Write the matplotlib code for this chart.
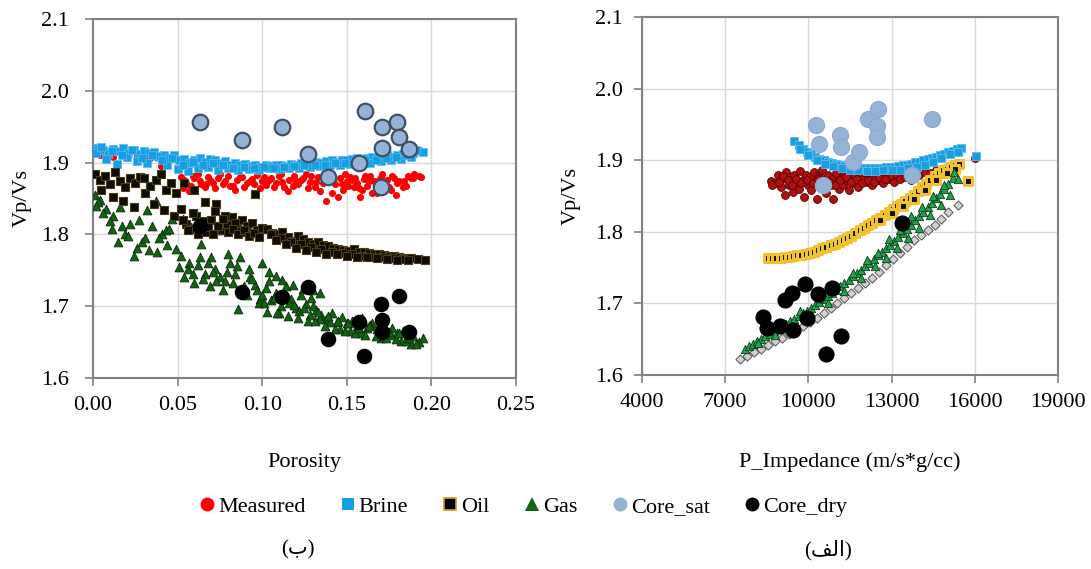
import matplotlib
matplotlib.use("Agg")
import matplotlib.pyplot as plt
from matplotlib.lines import Line2D

plt.rcParams['font.family'] = ['Liberation Serif', 'DejaVu Sans']

## Left panel : Vp/Vs vs porosity

brine_phi = [0.000, 0.003, 0.006, 0.009, 0.012, 0.015, 0.018, 0.021, 0.024, 0.027, 0.030, 0.033, 0.036, 0.039,
             0.042, 0.045, 0.048, 0.051, 0.054, 0.057, 0.060, 0.063, 0.066, 0.069, 0.072, 0.075, 0.078, 0.081,
             0.084, 0.087, 0.090, 0.093, 0.096, 0.099, 0.102, 0.105, 0.108, 0.111, 0.114, 0.117, 0.120, 0.123,
             0.126, 0.129, 0.132, 0.135, 0.138, 0.141, 0.144, 0.147, 0.150, 0.153, 0.156, 0.159, 0.162, 0.165,
             0.168, 0.171, 0.174, 0.177, 0.180, 0.183, 0.186, 0.189, 0.192, 0.195,
             0.002, 0.008, 0.014, 0.020, 0.026, 0.032, 0.038, 0.044, 0.050, 0.056, 0.062, 0.068, 0.074, 0.080,
             0.086, 0.092, 0.098, 0.104, 0.110, 0.116, 0.122, 0.128, 0.134, 0.140, 0.146, 0.152, 0.158, 0.164,
             0.170, 0.176, 0.182, 0.188,
             0.005, 0.011, 0.017, 0.023, 0.029, 0.035, 0.041, 0.047, 0.053, 0.059, 0.065, 0.071, 0.077, 0.083,
             0.089, 0.095, 0.101, 0.107, 0.113, 0.119, 0.125, 0.131, 0.137, 0.143, 0.149, 0.155, 0.161, 0.167,
             0.173, 0.179, 0.185, 0.191]
brine_vpvs = [1.920, 1.918, 1.917, 1.912, 1.919, 1.916, 1.921, 1.914, 1.918, 1.912, 1.916, 1.913, 1.915, 1.908,
              1.911, 1.906, 1.910, 1.903, 1.905, 1.899, 1.904, 1.906, 1.901, 1.905, 1.903, 1.899, 1.902, 1.897,
              1.900, 1.896, 1.898, 1.895, 1.896, 1.894, 1.897, 1.895, 1.896, 1.897, 1.895, 1.898, 1.897, 1.899,
              1.898, 1.900, 1.901, 1.899, 1.902, 1.903, 1.901, 1.904, 1.903, 1.905, 1.906, 1.904, 1.907, 1.908,
              1.906, 1.909, 1.910, 1.908, 1.911, 1.912, 1.914, 1.913, 1.916, 1.915,
              1.913, 1.905, 1.898, 1.908, 1.902, 1.900, 1.909, 1.897, 1.891, 1.888, 1.892, 1.894, 1.890, 1.893,
              1.889, 1.891, 1.890, 1.892, 1.891, 1.893, 1.892, 1.894, 1.895, 1.896, 1.897, 1.898, 1.899, 1.900,
              1.902, 1.903, 1.905, 1.908,
              1.922, 1.916, 1.910, 1.918, 1.907, 1.911, 1.903, 1.906, 1.897, 1.901, 1.897, 1.899, 1.896, 1.893,
              1.894, 1.892, 1.894, 1.893, 1.894, 1.895, 1.896, 1.896, 1.897, 1.899, 1.900, 1.901, 1.903, 1.904,
              1.906, 1.908, 1.911, 1.918]

meas_phi = [0.004, 0.012, 0.020, 0.026, 0.033, 0.040, 0.046, 0.052, 0.055, 0.058, 0.060, 0.063, 0.066, 0.068,
            0.071, 0.074, 0.077, 0.080, 0.083, 0.085, 0.088, 0.091, 0.094, 0.097, 0.100, 0.102, 0.105, 0.108,
            0.111, 0.113, 0.116, 0.119, 0.121, 0.124, 0.127, 0.129, 0.132, 0.134, 0.137, 0.139, 0.141, 0.143,
            0.146, 0.148, 0.150, 0.152, 0.154, 0.156, 0.158, 0.160, 0.162, 0.164, 0.166, 0.168, 0.170, 0.172,
            0.174, 0.176, 0.178, 0.180, 0.183, 0.186, 0.190, 0.194,
            0.053, 0.057, 0.062, 0.067, 0.072, 0.078, 0.084, 0.089, 0.095, 0.101, 0.107, 0.112, 0.118, 0.123,
            0.128, 0.133, 0.138, 0.142, 0.147, 0.151, 0.155, 0.159, 0.163, 0.167, 0.171, 0.175, 0.179, 0.184,
            0.188,
            0.054, 0.059, 0.064, 0.069, 0.075, 0.081, 0.087, 0.093, 0.099, 0.104, 0.110, 0.115, 0.120, 0.126,
            0.131, 0.136, 0.140, 0.145, 0.149, 0.153, 0.157, 0.161, 0.165, 0.169, 0.173, 0.177, 0.181, 0.185,
            0.189, 0.193]
meas_vpvs = [1.910, 1.908, 1.906, 1.910, 1.905, 1.895, 1.905, 1.880, 1.872, 1.868, 1.878, 1.875, 1.866, 1.880,
             1.872, 1.878, 1.870, 1.882, 1.868, 1.876, 1.880, 1.871, 1.877, 1.883, 1.874, 1.869, 1.879, 1.872,
             1.884, 1.866, 1.876, 1.881, 1.870, 1.878, 1.865, 1.882, 1.873, 1.861, 1.879, 1.884, 1.857, 1.870,
             1.878, 1.862, 1.874, 1.880, 1.866, 1.871, 1.852, 1.877, 1.868, 1.882, 1.874, 1.858, 1.880, 1.869,
             1.876, 1.862, 1.879, 1.871, 1.866, 1.882, 1.884, 1.880,
             1.865, 1.860, 1.884, 1.870, 1.864, 1.874, 1.862, 1.866, 1.870, 1.880, 1.866, 1.873, 1.868, 1.876,
             1.873, 1.880, 1.846, 1.877, 1.870, 1.867, 1.879, 1.862, 1.875, 1.870, 1.884, 1.866, 1.855, 1.874,
             1.878,
             1.876, 1.882, 1.870, 1.876, 1.884, 1.868, 1.880, 1.874, 1.864, 1.876, 1.882, 1.860, 1.874, 1.884,
             1.866, 1.872, 1.878, 1.852, 1.884, 1.876, 1.864, 1.882, 1.858, 1.876, 1.868, 1.882, 1.874, 1.868,
             1.878, 1.882]

oil_phi = [0.001, 0.004, 0.007, 0.010, 0.013, 0.016, 0.019, 0.022, 0.025, 0.028, 0.031, 0.034, 0.037, 0.040,
           0.043, 0.046, 0.049, 0.005, 0.012, 0.018, 0.024, 0.030, 0.036, 0.042, 0.048,
           0.052, 0.055, 0.058, 0.061, 0.064, 0.067, 0.070, 0.073, 0.076, 0.079, 0.082, 0.085, 0.088, 0.091,
           0.094, 0.097, 0.100, 0.054, 0.060, 0.066, 0.072, 0.078, 0.084, 0.090, 0.096,
           0.103, 0.106, 0.109, 0.112, 0.115, 0.118, 0.121, 0.124, 0.127, 0.130, 0.133, 0.136, 0.139, 0.142,
           0.145, 0.148, 0.151, 0.154, 0.157, 0.160, 0.163, 0.166, 0.169, 0.172, 0.175, 0.178, 0.181, 0.184,
           0.188, 0.192, 0.196,
           0.105, 0.111, 0.117, 0.123, 0.129, 0.135, 0.141, 0.147, 0.153, 0.159, 0.165, 0.171, 0.177, 0.183,
           0.053, 0.056, 0.059, 0.062, 0.065, 0.068, 0.071, 0.074, 0.077, 0.080, 0.083, 0.086, 0.089, 0.092,
           0.095, 0.098,
           0.108, 0.114, 0.120, 0.126, 0.132, 0.138, 0.144, 0.150, 0.156, 0.162, 0.168, 0.174, 0.180, 0.186]
oil_vpvs = [1.884, 1.876, 1.882, 1.870, 1.887, 1.874, 1.866, 1.878, 1.872, 1.880, 1.858, 1.868, 1.876, 1.884,
            1.862, 1.872, 1.858, 1.862, 1.852, 1.846, 1.838, 1.878, 1.843, 1.834, 1.826,
            1.835, 1.815, 1.808, 1.826, 1.812, 1.803, 1.820, 1.842, 1.806, 1.815, 1.824, 1.810, 1.820, 1.812,
            1.816, 1.806, 1.809, 1.872, 1.862, 1.845, 1.832, 1.826, 1.816, 1.803, 1.856,
            1.808, 1.802, 1.800, 1.804, 1.796, 1.791, 1.798, 1.793, 1.789, 1.786, 1.790, 1.785, 1.784, 1.781,
            1.780, 1.778, 1.777, 1.779, 1.775, 1.776, 1.774, 1.772, 1.773, 1.771, 1.770, 1.770, 1.768, 1.767,
            1.767, 1.766, 1.765,
            1.800, 1.795, 1.790, 1.786, 1.783, 1.779, 1.776, 1.774, 1.772, 1.770, 1.769, 1.768, 1.767, 1.766,
            1.820, 1.806, 1.830, 1.800, 1.818, 1.810, 1.800, 1.812, 1.822, 1.804, 1.808, 1.800, 1.806, 1.798,
            1.802, 1.797,
            1.792, 1.786, 1.781, 1.778, 1.776, 1.773, 1.772, 1.770, 1.769, 1.768, 1.767, 1.766, 1.765, 1.765]

gas_phi = [0.001, 0.004, 0.008, 0.012, 0.016, 0.019, 0.022, 0.026, 0.029, 0.032, 0.035, 0.038, 0.041, 0.044,
           0.047, 0.003, 0.010, 0.017, 0.024, 0.031, 0.037, 0.043, 0.049,
           0.051, 0.054, 0.057, 0.060, 0.063, 0.066, 0.069, 0.072, 0.075, 0.053, 0.058, 0.064, 0.070, 0.074,
           0.078, 0.081, 0.084, 0.087, 0.090, 0.093, 0.096, 0.099, 0.080, 0.086, 0.092, 0.098,
           0.102, 0.105, 0.108, 0.111, 0.114, 0.117, 0.120, 0.123, 0.126, 0.129, 0.104, 0.110, 0.116, 0.122, 0.128,
           0.132, 0.135, 0.138, 0.141, 0.144, 0.147, 0.150, 0.153, 0.156, 0.159, 0.162, 0.165, 0.168, 0.171,
           0.174, 0.177, 0.180, 0.183, 0.186, 0.189, 0.193,
           0.134, 0.140, 0.146, 0.152, 0.158, 0.164, 0.170, 0.176, 0.182, 0.188,
           0.002, 0.006, 0.011, 0.015, 0.021, 0.027, 0.033, 0.039, 0.045,
           0.052, 0.056, 0.059, 0.062, 0.065, 0.068, 0.071, 0.073,
           0.077, 0.079, 0.083, 0.085, 0.089, 0.091, 0.094, 0.097, 0.100,
           0.101, 0.103, 0.107, 0.109, 0.113, 0.115, 0.119, 0.121, 0.125, 0.127, 0.130,
           0.100, 0.104, 0.108, 0.112, 0.118, 0.124, 0.130, 0.134,
           0.131, 0.133, 0.137, 0.139, 0.143, 0.145, 0.149, 0.151, 0.155, 0.157, 0.161, 0.163, 0.167, 0.169,
           0.173, 0.175, 0.179, 0.181, 0.185, 0.187, 0.191, 0.195]
gas_vpvs = [1.855, 1.848, 1.835, 1.826, 1.838, 1.800, 1.815, 1.781, 1.790, 1.834, 1.812, 1.775, 1.800, 1.785,
            1.822, 1.845, 1.818, 1.812, 1.770, 1.795, 1.846, 1.806, 1.780,
            1.755, 1.740, 1.760, 1.732, 1.768, 1.745, 1.728, 1.752, 1.740, 1.822, 1.810, 1.787, 1.768, 1.806,
            1.735, 1.760, 1.745, 1.768, 1.722, 1.740, 1.730, 1.710, 1.772, 1.696, 1.752, 1.705,
            1.725, 1.708, 1.718, 1.700, 1.728, 1.710, 1.697, 1.715, 1.703, 1.712, 1.735, 1.690, 1.705, 1.693, 1.688,
            1.695, 1.688, 1.682, 1.690, 1.678, 1.685, 1.676, 1.680, 1.672, 1.684, 1.670, 1.676, 1.668, 1.672,
            1.664, 1.670, 1.662, 1.666, 1.660, 1.658, 1.650,
            1.682, 1.678, 1.668, 1.665, 1.662, 1.674, 1.656, 1.660, 1.652, 1.647,
            1.840, 1.830, 1.808, 1.790, 1.798, 1.820, 1.778, 1.795, 1.808,
            1.770, 1.752, 1.745, 1.758, 1.738, 1.760, 1.748, 1.735,
            1.722, 1.748, 1.732, 1.756, 1.728, 1.715, 1.738, 1.722, 1.716,
            1.705, 1.692, 1.712, 1.690, 1.715, 1.686, 1.702, 1.684, 1.698, 1.680, 1.700,
            1.760, 1.748, 1.742, 1.736, 1.730, 1.724, 1.722, 1.718,
            1.680, 1.692, 1.672, 1.686, 1.668, 1.680, 1.666, 1.676, 1.662, 1.670, 1.660, 1.672, 1.658, 1.668,
            1.656, 1.664, 1.654, 1.662, 1.652, 1.656, 1.648, 1.655]

coresat_phi = [0.063, 0.088, 0.112, 0.127, 0.139, 0.157, 0.161, 0.171, 0.180, 0.181, 0.171, 0.187, 0.170]
coresat_vpvs = [1.957, 1.931, 1.949, 1.912, 1.880, 1.899, 1.972, 1.950, 1.957, 1.936, 1.921, 1.919, 1.866]
coredry_phi = [0.063, 0.088, 0.112, 0.127, 0.139, 0.160, 0.170, 0.181, 0.171, 0.171, 0.187, 0.157]
coredry_vpvs = [1.811, 1.720, 1.713, 1.727, 1.654, 1.631, 1.703, 1.714, 1.681, 1.664, 1.664, 1.678]

## Right panel : Vp/Vs vs P impedance

brine_ip = [9500, 9650, 9800, 9950, 10100, 10250, 10400, 10550, 10700, 10850, 11000, 11150, 11300, 11450,
            11600, 11750, 11900, 12050, 12200, 12350, 12500, 12650, 12800, 12950, 13100, 13250, 13400, 13550,
            13700, 13850, 14000, 14150, 14300, 14450, 14600, 14750, 14900, 15050, 15200, 15350, 15500, 16050,
            9700, 10000, 10300, 10600, 10900, 11200, 11500, 11800, 12100, 12400, 12700, 13000, 13300, 13600,
            13900, 14200, 14500, 14800, 15100, 15400]
brine_ip_vpvs = [1.927, 1.921, 1.916, 1.912, 1.908, 1.905, 1.902, 1.900, 1.898, 1.896, 1.895, 1.893, 1.892, 1.891,
                 1.890, 1.890, 1.889, 1.889, 1.889, 1.889, 1.889, 1.889, 1.890, 1.890, 1.891, 1.892, 1.893, 1.894,
                 1.895, 1.897, 1.898, 1.900, 1.902, 1.903, 1.905, 1.907, 1.909, 1.911, 1.913, 1.915, 1.917, 1.906,
                 1.915, 1.907, 1.900, 1.895, 1.892, 1.889, 1.887, 1.886, 1.885, 1.885, 1.886, 1.886, 1.887, 1.889,
                 1.891, 1.894, 1.898, 1.903, 1.908, 1.912]

meas_ip = [8650, 8800, 8900, 9000, 9050, 9150, 9200, 9300, 9350, 9450, 9500, 9600, 9650, 9700, 9800, 9850,
           9900, 10000, 10050, 10100, 10200, 10250, 10300, 10400, 10450, 10500, 10600, 10650, 10700, 10800,
           10850, 10900, 11000, 11050, 11100, 11200, 11250, 11300, 11400, 11450, 11500, 11600, 11700, 11800,
           11900, 12000, 12100, 12200, 12300, 12400, 12500, 12600, 12700, 12800, 12900, 13000, 13100, 13200,
           13300, 13400, 13500, 13600, 13700, 13800, 14000, 14200, 14400, 14600, 14800, 15000, 15300, 16000,
           8700, 8950, 9100, 9250, 9400, 9550, 9750, 9950, 10150, 10350, 10550, 10750, 10950, 11150, 11350,
           11550, 11750, 11950, 12150, 12350, 12550, 12750]
meas_ip_vpvs = [1.871, 1.868, 1.880, 1.862, 1.874, 1.852, 1.884, 1.866, 1.876, 1.856, 1.880, 1.870, 1.860, 1.885,
                1.873, 1.848, 1.880, 1.866, 1.876, 1.858, 1.883, 1.870, 1.846, 1.878, 1.862, 1.886, 1.872, 1.854,
                1.880, 1.866, 1.874, 1.846, 1.882, 1.870, 1.860, 1.876, 1.866, 1.884, 1.872, 1.858, 1.878, 1.868,
                1.880, 1.862, 1.874, 1.884, 1.870, 1.878, 1.866, 1.882, 1.872, 1.876, 1.868, 1.882, 1.874, 1.878,
                1.870, 1.880, 1.874, 1.884, 1.876, 1.880, 1.872, 1.883, 1.880, 1.884, 1.882, 1.886, 1.888, 1.890,
                1.892, 1.903,
                1.866, 1.870, 1.878, 1.872, 1.866, 1.874, 1.868, 1.872, 1.868, 1.874, 1.864, 1.870, 1.866, 1.872,
                1.876, 1.870, 1.874, 1.868, 1.872, 1.870, 1.876, 1.874]

oil_ip = [8550, 8700, 8850, 9000, 9150, 9300, 9450, 9600, 9750, 9900, 10050, 10200, 10350, 10500, 10650,
          10800, 10950, 11100, 11250, 11400, 11550, 11700, 11850, 12000, 12150, 12300, 12450, 12600, 12750,
          12900, 13050, 13200, 13350, 13500, 13650, 13800, 13950, 14100, 14250, 14400, 14550, 14700, 14850,
          15000, 15150, 15300, 15450, 15750,
          12600, 13000, 13400, 13800, 14200, 14600, 15000, 15300]
oil_ip_vpvs = [1.763, 1.763, 1.764, 1.764, 1.765, 1.765, 1.766, 1.767, 1.768, 1.769, 1.770, 1.772, 1.774, 1.777,
               1.779, 1.781, 1.783, 1.786, 1.789, 1.791, 1.794, 1.798, 1.802, 1.806, 1.810, 1.813, 1.817, 1.820,
               1.824, 1.828, 1.832, 1.836, 1.839, 1.843, 1.847, 1.852, 1.857, 1.862, 1.867, 1.873, 1.878, 1.882,
               1.886, 1.888, 1.890, 1.893, 1.895, 1.871,
               1.816, 1.826, 1.836, 1.846, 1.858, 1.872, 1.882, 1.888]

gas_ip = [7700, 7850, 8000, 8150, 8300, 8450, 8600, 8750, 8900, 9050, 9200, 9350, 9500, 9650, 9800, 9950,
          10100, 10250, 10400, 10550, 10700, 10850, 11000, 11150, 11300, 11450, 11600, 11750, 11900, 12050,
          12200, 12350, 12500, 12650, 12800, 12950, 13100, 13250, 13400, 13550, 13700, 13850, 14000, 14150,
          14300, 14450, 14600, 14750, 14900, 15050, 15200,
          9000, 9700, 10400, 11000, 11600, 12100, 12500, 12900, 13300, 13700, 14100, 14500, 14900, 15250, 15400,
          8200, 8800, 9400, 10000, 10700, 11300, 11900, 12400, 12800, 13200, 13600, 14000, 14400, 14800, 15100]
gas_ip_vpvs = [1.637, 1.641, 1.644, 1.647, 1.651, 1.654, 1.657, 1.661, 1.664, 1.668, 1.671, 1.675, 1.678, 1.682,
               1.686, 1.690, 1.694, 1.698, 1.702, 1.706, 1.711, 1.715, 1.719, 1.724, 1.728, 1.733, 1.738, 1.742,
               1.747, 1.752, 1.757, 1.762, 1.767, 1.772, 1.777, 1.782, 1.787, 1.793, 1.798, 1.804, 1.810, 1.816,
               1.822, 1.828, 1.834, 1.840, 1.847, 1.853, 1.860, 1.867, 1.875,
               1.672, 1.690, 1.708, 1.724, 1.742, 1.760, 1.770, 1.790, 1.802, 1.822, 1.834, 1.850, 1.866, 1.884, 1.874,
               1.645, 1.656, 1.668, 1.683, 1.700, 1.718, 1.735, 1.752, 1.764, 1.778, 1.792, 1.806, 1.824, 1.838, 1.852]

# grey diamonds (not in legend)
dry_ip = [7550, 7800, 8050, 8300, 8550, 8800, 9050, 9300, 9550, 9800, 10050, 10300, 10550, 10800, 11050,
          11300, 11550, 11800, 12050, 12300, 12550, 12800, 13050, 13300, 13550, 13800, 14050, 14300, 14550,
          14800, 15050, 15400]
dry_ip_vpvs = [1.622, 1.627, 1.632, 1.637, 1.642, 1.647, 1.652, 1.657, 1.662, 1.668, 1.674, 1.680, 1.686, 1.693,
               1.700, 1.707, 1.714, 1.721, 1.728, 1.736, 1.744, 1.754, 1.762, 1.770, 1.779, 1.788, 1.796, 1.803,
               1.810, 1.818, 1.828, 1.837]

coresat_ip = [10275, 10394, 10538, 11140, 11176, 11620, 11837, 12161, 12462, 12486, 12498, 14446, 13725]
coresat_ip_vpvs = [1.949, 1.923, 1.866, 1.935, 1.919, 1.898, 1.911, 1.957, 1.948, 1.932, 1.972, 1.957, 1.879]
coredry_ip = [8375, 9157, 9398, 9878, 10357, 10838, 10624, 11165, 8497, 8977, 9456, 9939, 13363]
coredry_ip_vpvs = [1.681, 1.705, 1.715, 1.727, 1.713, 1.721, 1.630, 1.654, 1.665, 1.668, 1.663, 1.679, 1.812]

legend_labels = ["Measured", "Brine", "Oil", "Gas", "Core_sat", "Core_dry"]


## Figure

fig = plt.figure(figsize=(10.91, 5.69), dpi=100)
ax1 = fig.add_axes([0.0852, 0.3357, 0.3877, 0.6309])
ax2 = fig.add_axes([0.5884, 0.3409, 0.3813, 0.6292])

ax1.scatter(meas_phi, meas_vpvs, s=26, marker="o", color="#ff0000", linewidths=0, zorder=3)
ax1.scatter(brine_phi, brine_vpvs, s=28, marker="s", color="#1a9ee2", edgecolors="#56bdf0", linewidths=0.5, zorder=4)
ax1.scatter(gas_phi, gas_vpvs, s=40, marker="^", color="#136313", edgecolors="#0a2a0a", linewidths=0.6, zorder=5)
ax1.scatter(oil_phi, oil_vpvs, s=36, marker="s", color="#0d0b05", edgecolors="#4a3d10", linewidths=0.8, zorder=6)
ax1.scatter(coresat_phi, coresat_vpvs, s=125, marker="o", color="#95b3d7", edgecolors="#3f4f66", linewidths=1.6, zorder=7)
ax1.scatter(coredry_phi, coredry_vpvs, s=125, marker="o", color="#000000", linewidths=0, zorder=8)

ax2.scatter(meas_ip, meas_ip_vpvs, s=32, marker="o", color="#b01010", edgecolors="#5a0000", linewidths=0.6, zorder=3)
ax2.scatter(brine_ip, brine_ip_vpvs, s=32, marker="s", color="#1a9ee2", edgecolors="#56bdf0", linewidths=0.6, zorder=4)
ax2.scatter(oil_ip, oil_ip_vpvs, s=28, marker="s", color="#111111", edgecolors="#f2c12e", linewidths=2.2, zorder=5)
ax2.scatter(dry_ip, dry_ip_vpvs, s=22, marker="D", color="#d0d0d0", edgecolors="#555555", linewidths=0.7, zorder=6)
ax2.scatter(gas_ip, gas_ip_vpvs, s=36, marker="^", color="#22a04c", edgecolors="#0b3a18", linewidths=0.6, zorder=7)
ax2.scatter(coredry_ip, coredry_ip_vpvs, s=135, marker="o", color="#000000", linewidths=0, zorder=8)
ax2.scatter(coresat_ip, coresat_ip_vpvs, s=135, marker="o", color="#95b3d7", edgecolors="#8aa8d0", linewidths=0.8, zorder=9)

for ax in (ax1, ax2):
    ax.set_ylim(1.6, 2.1)
    ax.set_yticks([1.6, 1.7, 1.8, 1.9, 2.0, 2.1])
    ax.set_yticklabels(["1.6", "1.7", "1.8", "1.9", "2.0", "2.1"])
    ax.grid(True, color="#d9d9d9", linewidth=1)
    ax.set_axisbelow(True)
    for sp in ax.spines.values():
        sp.set_color("#808080")
        sp.set_linewidth(1.5)
    ax.tick_params(axis="both", which="major", labelsize=16, length=6, width=1.2, color="#808080", direction="out")
    ax.tick_params(axis="x", pad=7)
    ax.set_ylabel("Vp/Vs", fontsize=16)

ax1.tick_params(axis="y", pad=11)
ax2.tick_params(axis="y", pad=8)

ax1.set_xlim(0, 0.25)
ax1.set_xticks([0.00, 0.05, 0.10, 0.15, 0.20, 0.25])
ax1.set_xticklabels(["0.00", "0.05", "0.10", "0.15", "0.20", "0.25"])
ax1.set_xlabel("Porosity", fontsize=16)

ax2.set_xlim(4000, 19000)
ax2.set_xticks([4000, 7000, 10000, 13000, 16000, 19000])
ax2.set_xticklabels(["4000", "7000", "10000", "13000", "16000", "19000"])
ax2.set_xlabel("P_Impedance (m/s*g/cc)", fontsize=16)

ax1.xaxis.set_label_coords(0.5, -0.21)
ax2.xaxis.set_label_coords(0.5, -0.215)
ax1.yaxis.set_label_coords(-0.145, 0.5)
ax2.yaxis.set_label_coords(-0.146, 0.5)

handles = [
    Line2D([], [], linestyle="none", marker="o", markersize=10, color="#ff0000", markeredgewidth=0),
    Line2D([], [], linestyle="none", marker="s", markersize=9, color="#1a9ee2", markeredgewidth=0),
    Line2D([], [], linestyle="none", marker="s", markersize=9, color="#000000", markeredgecolor="#d4a017", markeredgewidth=1.2),
    Line2D([], [], linestyle="none", marker="^", markersize=10, color="#136313", markeredgewidth=0),
    Line2D([], [], linestyle="none", marker="o", markersize=10, color="#95b3d7", markeredgewidth=0),
    Line2D([], [], linestyle="none", marker="o", markersize=10, color="#000000", markeredgewidth=0),
]
fig.legend(handles, legend_labels, loc="center", bbox_to_anchor=(0.4785, 0.109), ncol=6, frameon=False,
           fontsize=16, handletextpad=0.05, columnspacing=1.45, handlelength=0.9)

fig.text(0.273, 0.033, "(ب)", ha="center", va="center", fontsize=15)
fig.text(0.759, 0.033, "(\ufed2\ufedf\ufe8d)", ha="center", va="center", fontsize=15)

fig.savefig("out.png", dpi=100)
